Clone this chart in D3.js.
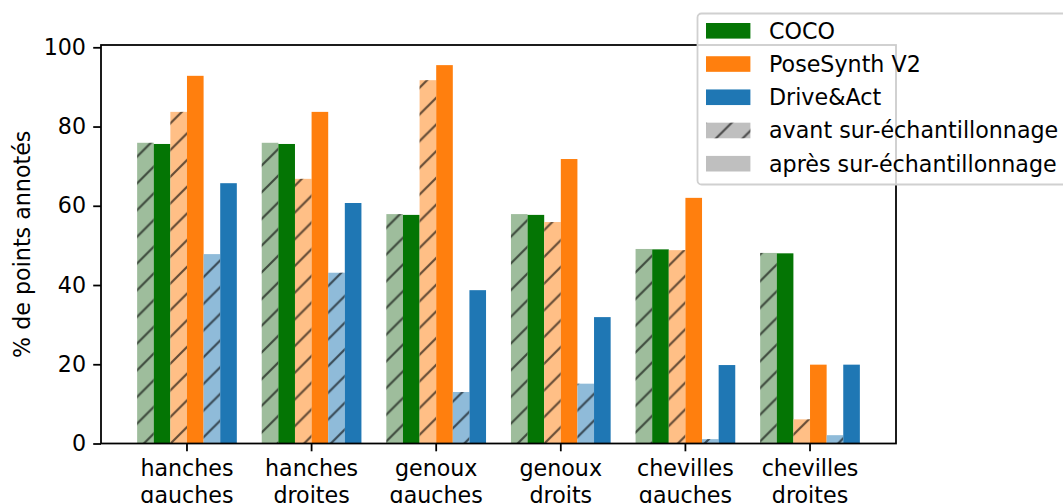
<!DOCTYPE html>
<html>
<head>
<meta charset="utf-8">
<script src="https://cdn.jsdelivr.net/npm/d3@7"></script>
<style>
    body { margin: 0; background: #fff; }
    svg { display: block; font-family: "DejaVu Sans", sans-serif; }
</style>
</head>
<body>
<script>
//wrap everything in a self-executing anonymous function
(function(){

    //chart data
    var categories = ["hanches\ngauches", "hanches\ndroites", "genoux\ngauches", "genoux\ndroits", "chevilles\ngauches", "chevilles\ndroites"];
    var cocoAvant = [75.9, 75.9, 57.9, 57.9, 49.1, 48.1];
    var cocoApres = [75.6, 75.6, 57.7, 57.7, 49.0, 48.0];
    var poseAvant = [83.7, 66.8, 91.7, 55.9, 48.8, 6.1];
    var poseApres = [92.8, 83.7, 95.5, 71.8, 62.0, 19.9];
    var daAvant = [47.8, 43.1, 13.0, 15.1, 1.1, 2.1];
    var daApres = [65.7, 60.7, 38.7, 31.9, 19.8, 19.9];
    var yTicks = [0, 20, 40, 60, 80, 100];
    var legendLabels = ["COCO", "PoseSynth V2", "Drive&Act", "avant sur-échantillonnage", "après sur-échantillonnage"];

    //series in drawing order inside a group
    var series = [
        {values: cocoAvant, color: "#9ebd9c", hatch: true},
        {values: cocoApres, color: "#047504", hatch: false},
        {values: poseAvant, color: "#ffbf86", hatch: true},
        {values: poseApres, color: "#ff7f0e", hatch: false},
        {values: daAvant, color: "#8fbbd9", hatch: true},
        {values: daApres, color: "#1f77b4", hatch: false}
    ];

    var width = 1063, height = 503;
    var fontSize = 22.2;
    var margin = {left: 101, right: 896, top: 45, bottom: 443.5};

    var svg = d3.select("body")
        .append("svg")
        .attr("width", width)
        .attr("height", height);

    //hatch pattern "//"
    var defs = svg.append("defs");
    var p = 26.7;
    var pattern = defs.append("pattern")
        .attr("id", "hatch")
        .attr("patternUnits", "userSpaceOnUse")
        .attr("width", p)
        .attr("height", p);
    pattern.append("path")
        .attr("d", "M0," + p + "L" + p + ",0M-6,6L6,-6M" + (p - 6) + "," + (p + 6) + "L" + (p + 6) + "," + (p - 6))
        .attr("stroke", "#000")
        .attr("stroke-opacity", 0.6)
        .attr("stroke-width", 2.2);

    //scales
    var x = d3.scaleBand()
        .domain(categories)
        .range([margin.left, margin.right])
        .paddingInner(0.2)
        .paddingOuter(0.29);

    var xSub = d3.scaleBand()
        .domain(d3.range(series.length))
        .range([0, x.bandwidth()]);

    var y = d3.scaleLinear()
        .domain([0, 100.58])
        .range([margin.bottom, margin.top]);

    //bars
    series.forEach(function(s, si){
        var g = svg.append("g");
        g.selectAll(".bar")
            .data(s.values)
            .enter()
            .append("rect")
            .attr("x", function(d, i){ return x(categories[i]) + xSub(si); })
            .attr("y", function(d){ return y(d); })
            .attr("width", xSub.bandwidth())
            .attr("height", function(d){ return y(0) - y(d); })
            .attr("fill", s.color);
        if (s.hatch){
            g.selectAll(".hatch")
                .data(s.values)
                .enter()
                .append("rect")
                .attr("x", function(d, i){ return x(categories[i]) + xSub(si); })
                .attr("y", function(d){ return y(d); })
                .attr("width", xSub.bandwidth())
                .attr("height", function(d){ return y(0) - y(d); })
                .attr("fill", "url(#hatch)");
        }
    });

    //y axis
    var yAxis = svg.append("g")
        .attr("transform", "translate(" + margin.left + ",0)")
        .call(d3.axisLeft(y).tickValues(yTicks).tickSize(7.8).tickPadding(7.2));
    yAxis.select(".domain").remove();
    yAxis.selectAll("line").attr("stroke", "#000").attr("stroke-width", 1.78);
    yAxis.selectAll("text").attr("font-size", fontSize).attr("font-family", "DejaVu Sans").attr("fill", "#000");

    //x axis
    var xAxis = svg.append("g")
        .attr("transform", "translate(0," + margin.bottom + ")")
        .call(d3.axisBottom(x).tickSize(7.8).tickFormat(""));
    xAxis.select(".domain").remove();
    xAxis.selectAll("line").attr("stroke", "#000").attr("stroke-width", 1.78);

    //two-line tick labels
    var labels = svg.append("g")
        .selectAll("text")
        .data(categories)
        .enter()
        .append("text")
        .attr("text-anchor", "middle")
        .attr("font-size", fontSize)
        .attr("fill", "#000");
    labels.each(function(d){
        var t = d3.select(this);
        d.split("\n").forEach(function(line, k){
            t.append("tspan")
                .attr("x", x(d) + x.bandwidth() / 2)
                .attr("y", 476 + k * fontSize * 1.2)
                .text(line);
        });
    });

    //frame
    svg.append("rect")
        .attr("x", margin.left)
        .attr("y", margin.top)
        .attr("width", margin.right - margin.left)
        .attr("height", margin.bottom - margin.top)
        .attr("fill", "none")
        .attr("stroke", "#000")
        .attr("stroke-width", 1.78);

    //y axis title
    svg.append("text")
        .attr("transform", "translate(30," + ((margin.top + margin.bottom) / 2) + ") rotate(-90)")
        .attr("text-anchor", "middle")
        .attr("font-size", fontSize)
        .attr("fill", "#000")
        .text("% de points annotés");

    //legend
    var legend = svg.append("g");
    legend.append("rect")
        .attr("x", 697.5)
        .attr("y", 13.5)
        .attr("width", 380)
        .attr("height", 171)
        .attr("rx", 4)
        .attr("fill", "#fff")
        .attr("fill-opacity", 0.8)
        .attr("stroke", "#d0d0d0")
        .attr("stroke-width", 1.8);

    var legendColors = ["#047504", "#ff7f0e", "#1f77b4", "#bfbfbf", "#bfbfbf"];
    var legendHatch = [false, false, false, true, false];
    var rowY = d3.scaleLinear().domain([0, 4]).range([30.8, 163.7]);

    legendLabels.forEach(function(lbl, i){
        legend.append("rect")
            .attr("x", 706)
            .attr("y", rowY(i) - 7.8)
            .attr("width", 44.4)
            .attr("height", 15.6)
            .attr("fill", legendColors[i]);
        if (legendHatch[i]){
            legend.append("rect")
                .attr("x", 706)
                .attr("y", rowY(i) - 7.8)
                .attr("width", 44.4)
                .attr("height", 15.6)
                .attr("fill", "url(#hatch)");
        }
        legend.append("text")
            .attr("x", 769)
            .attr("y", rowY(i) + 8)
            .attr("font-size", fontSize)
            .attr("fill", "#000")
            .text(lbl);
    });

})();
</script>
</body>
</html>
